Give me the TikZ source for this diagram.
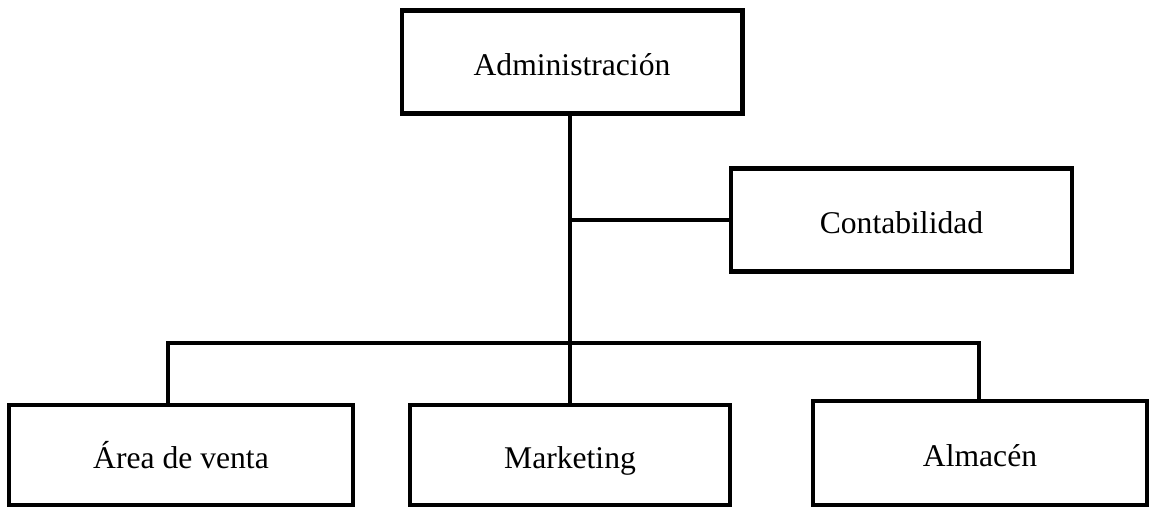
\documentclass[tikz,border=0pt]{standalone}
\usepackage{fontspec}
\setmainfont{Liberation Serif}
\usetikzlibrary{positioning, calc}
\tikzset{
  every picture/.style={line width=2.3pt},
  unit/.style={draw=black, fill=white, align=center, inner sep=0pt,
    text height=18pt, text depth=3pt,
    minimum width=#1, minimum height=2.06cm, font=\fontsize{18}{22}\selectfont},
  unit/.default=6.82cm,
  link/.style={draw=black, line width=2.3pt},
}
\begin{document}
\begin{tikzpicture}[x=0.02cm, y=-0.02cm]
  \useasboundingbox (0,0) rectangle (1151,507);
  % top level
  \node[unit=6.82cm] (admin) at (572,62) {Administración};
  \node[unit=6.82cm] (contab) at (901.5,220) {Contabilidad};
  % bottom row
  \node[unit=6.88cm, minimum height=2.0cm] (area) at (181,455) {Área de venta};
  \node[unit=6.4cm, minimum height=2.0cm] (mkt) at (570,455) {Marketing};
  \node[unit=6.68cm, minimum height=2.08cm] (alm) at (980,453) {Almacén};
  % lines
  \coordinate (busL) at (168,343);
  \coordinate (busR) at (979,343);
  \draw[link] (mkt.north |- admin.south) -- (mkt.north);
  \draw[link] (mkt.north |- contab.west) -- (contab.west);
  \draw[link] (busL |- area.north) -- (busL) -- (busR) -- (busR |- alm.north);
\end{tikzpicture}
\end{document}
